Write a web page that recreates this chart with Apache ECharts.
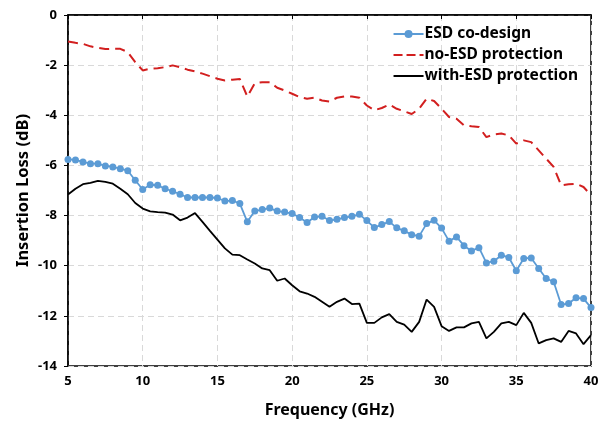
<!DOCTYPE html>
<html>
<head>
<meta charset="utf-8">
<script src="https://cdn.jsdelivr.net/npm/echarts@6/dist/echarts.min.js"></script>
<style>
  html, body { margin: 0; padding: 0; background: #fff; }
  #chart { width: 607px; height: 422px; }
</style>
</head>
<body>
<div id="chart"></div>
<script>
// frequency points (GHz)
var freq = [5, 5.5, 6, 6.5, 7, 7.5, 8, 8.5, 9, 9.5, 10, 10.5, 11, 11.5, 12, 12.5, 13, 13.5, 14, 14.5,
  15, 15.5, 16, 16.5, 17, 17.5, 18, 18.5, 19, 19.5, 20, 20.5, 21, 21.5, 22, 22.5, 23, 23.5, 24, 24.5,
  25, 25.5, 26, 26.5, 27, 27.5, 28, 28.5, 29, 29.5, 30, 30.5, 31, 31.5, 32, 32.5, 33, 33.5, 34, 34.5,
  35, 35.5, 36, 36.5, 37, 37.5, 38, 38.5, 39, 39.5, 40];

var esdCoDesign = [-5.76, -5.78, -5.86, -5.93, -5.93, -6.02, -6.06, -6.13, -6.21, -6.59, -6.96, -6.77, -6.79, -6.93, -7.03, -7.15, -7.28, -7.28, -7.28, -7.28,
  -7.3, -7.42, -7.4, -7.52, -8.25, -7.82, -7.76, -7.7, -7.82, -7.86, -7.92, -8.08, -8.28, -8.06, -8.03, -8.2, -8.15, -8.08, -8.03, -7.95,
  -8.2, -8.48, -8.36, -8.24, -8.49, -8.61, -8.76, -8.82, -8.32, -8.19, -8.5, -9.02, -8.85, -9.2, -9.41, -9.28, -9.89, -9.82, -9.58, -9.67,
  -10.2, -9.71, -9.69, -10.11, -10.51, -10.64, -11.55, -11.51, -11.28, -11.31, -11.67];

var noEsd = [-1.06, -1.11, -1.15, -1.25, -1.31, -1.36, -1.35, -1.35, -1.48, -1.88, -2.21, -2.14, -2.12, -2.08, -2.01, -2.08, -2.18, -2.25, -2.34, -2.44,
  -2.54, -2.61, -2.58, -2.55, -3.25, -2.72, -2.68, -2.68, -2.9, -3.01, -3.14, -3.27, -3.34, -3.3, -3.41, -3.45, -3.3, -3.25, -3.25, -3.3,
  -3.61, -3.8, -3.71, -3.57, -3.74, -3.84, -3.95, -3.74, -3.34, -3.43, -3.74, -4.07, -4.14, -4.4, -4.44, -4.47, -4.87, -4.76, -4.73, -4.8,
  -5.13, -5.0, -5.07, -5.4, -5.73, -6.06, -6.79, -6.75, -6.73, -6.86, -7.19];

var withEsd = [-7.16, -6.93, -6.75, -6.7, -6.62, -6.66, -6.73, -6.93, -7.15, -7.5, -7.72, -7.83, -7.86, -7.88, -7.96, -8.19, -8.08, -7.9, -8.25, -8.61,
  -8.96, -9.31, -9.56, -9.58, -9.75, -9.91, -10.11, -10.18, -10.6, -10.51, -10.78, -11.02, -11.11, -11.24, -11.44, -11.64, -11.44, -11.31, -11.53, -11.51,
  -12.28, -12.28, -12.06, -11.93, -12.24, -12.35, -12.64, -12.24, -11.35, -11.64, -12.41, -12.6, -12.46, -12.46, -12.3, -12.24, -12.9, -12.64, -12.3, -12.24,
  -12.37, -11.88, -12.28, -13.1, -12.97, -12.9, -13.04, -12.6, -12.7, -13.13, -12.77];

var seriesNames = ['ESD co-design', 'no-ESD protection', 'with-ESD protection'];

function pairs(ys) {
  return freq.map(function (f, i) { return [f, ys[i]]; });
}

var chart = echarts.init(document.getElementById('chart'));
var font = 'Noto Sans';

// plain line icons for the legend (no markers on red / black)
var dashIcon = 'path://M0,4H9V6H0Z M13,4H22V6H13Z M26,4H30V6H26Z';
var solidIcon = 'path://M0,4H30V6H0Z';

chart.setOption({
  animation: false,
  grid: {
    left: 68,
    right: 16,
    top: 15,
    bottom: 56,
    outerBoundsMode: 'none',
    show: true,
    borderColor: '#000',
    borderWidth: 1.5
  },
  legend: {
    orient: 'vertical',
    right: 24,
    top: 21,
    itemWidth: 30,
    itemHeight: 10,
    itemGap: 5,
    data: [
      { name: seriesNames[0] },
      { name: seriesNames[1], icon: dashIcon },
      { name: seriesNames[2], icon: solidIcon }
    ],
    textStyle: { color: '#000', fontWeight: 'bold', fontSize: 15.5, fontFamily: font, padding: [0, 0, 0, -4] }
  },
  xAxis: {
    type: 'value',
    min: 5,
    max: 40,
    interval: 5,
    name: 'Frequency (GHz)',
    nameLocation: 'middle',
    nameGap: 36,
    nameMoveOverlap: false,
    nameTextStyle: { color: '#000', fontWeight: 'bold', fontSize: 16, fontFamily: font },
    axisLine: { lineStyle: { color: '#000', width: 1.5 } },
    axisTick: { show: true, length: 4, lineStyle: { color: '#000' } },
    axisLabel: { color: '#000', fontWeight: 'bold', fontSize: 13, fontFamily: font, margin: 9 },
    splitLine: { lineStyle: { color: '#d9d9d9', type: [6, 4] } }
  },
  yAxis: {
    type: 'value',
    min: -14,
    max: 0,
    interval: 2,
    name: 'Insertion Loss (dB)',
    nameLocation: 'middle',
    nameGap: 36,
    nameMoveOverlap: false,
    nameTextStyle: { color: '#000', fontWeight: 'bold', fontSize: 16.5, fontFamily: font },
    axisLine: { show: true, lineStyle: { color: '#000', width: 1.5 } },
    axisTick: { show: true, length: 4, lineStyle: { color: '#000' } },
    axisLabel: { color: '#000', fontWeight: 'bold', fontSize: 13, fontFamily: font, margin: 11 },
    splitLine: { lineStyle: { color: '#d9d9d9', type: [6, 4] } }
  },
  series: [
    {
      name: seriesNames[0],
      type: 'line',
      data: pairs(esdCoDesign),
      symbol: 'circle',
      symbolSize: 7,
      itemStyle: { color: '#5b9bd5' },
      lineStyle: { color: '#5b9bd5', width: 1.8 },
      z: 3
    },
    {
      name: seriesNames[1],
      type: 'line',
      data: pairs(noEsd),
      symbol: 'none',
      itemStyle: { color: '#d21f1f' },
      lineStyle: { color: '#d21f1f', width: 2, type: [10, 6] }
    },
    {
      name: seriesNames[2],
      type: 'line',
      data: pairs(withEsd),
      symbol: 'none',
      itemStyle: { color: '#000' },
      lineStyle: { color: '#000', width: 1.8 }
    }
  ]
});
</script>
</body>
</html>
